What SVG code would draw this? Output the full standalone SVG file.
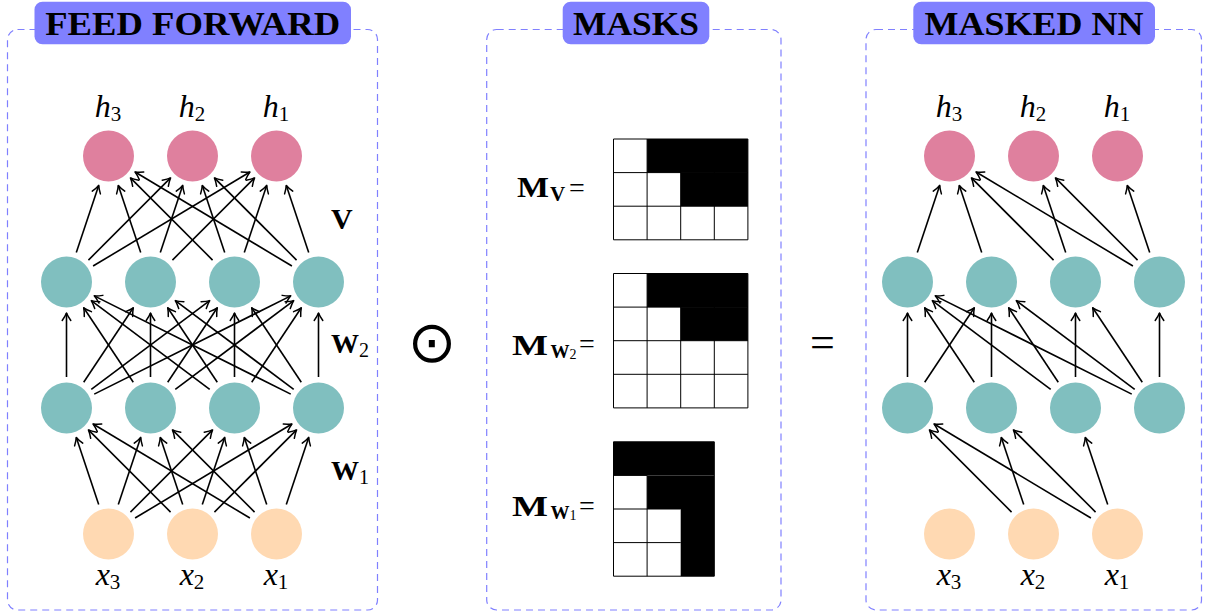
<svg xmlns="http://www.w3.org/2000/svg" width="1205" height="612" viewBox="0 0 1205 612">
<style>
.panel{fill:none;stroke:#8080ff;stroke-width:1.2;stroke-dasharray:7 5}
.tbox{fill:#8080ff}
.title{font-family:"Liberation Serif",serif;font-weight:bold;font-size:34px;fill:#000;text-anchor:middle}
.out{fill:#df809e}
.hid{fill:#80bfbf}
.inp{fill:#ffd9b2}
.lab{font-family:"Liberation Serif",serif;font-size:32px;fill:#000;text-anchor:middle}
.it{font-style:italic}
.sub{font-size:21px}
.bold{font-family:"Liberation Serif",serif;font-weight:bold;fill:#000}
.eq{font-family:"Liberation Serif",serif;fill:#000}
.conn line{stroke:#000;stroke-width:1.6;marker-end:url(#ah)}
.grid line{stroke:#000;stroke-width:1}
.blk{fill:#000}
</style>
<defs>
<marker id="ah" markerUnits="userSpaceOnUse" viewBox="-9 -6 10 12" markerWidth="10" markerHeight="12" refX="0" refY="0" orient="auto" overflow="visible">
<path d="M-7.5,-4.3 Q-3,-1.2 0,0 Q-3,1.2 -7.5,4.3" fill="none" stroke="#000" stroke-width="1.5" stroke-linecap="round" stroke-linejoin="round"/>
</marker>
</defs>

<!-- Panels -->
<g id="panel-ff">
<rect class="panel" x="7.5" y="29.5" width="370" height="580.5" rx="10"/>
<rect class="tbox" x="34.5" y="1.7" width="316.5" height="42.6" rx="8"/>
<text class="title" x="192.7" y="35" textLength="295" lengthAdjust="spacingAndGlyphs">FEED FORWARD</text>
</g>
<g id="panel-masks">
<rect class="panel" x="486.7" y="29.5" width="294.3" height="580.5" rx="10"/>
<rect class="tbox" x="562.7" y="1.7" width="146.6" height="42.6" rx="8"/>
<text class="title" x="636" y="35" textLength="126" lengthAdjust="spacingAndGlyphs">MASKS</text>
</g>
<g id="panel-mnn">
<rect class="panel" x="866" y="29.5" width="335.5" height="580.5" rx="10"/>
<rect class="tbox" x="913.3" y="1.7" width="241.7" height="42.6" rx="8"/>
<text class="title" x="1034" y="35" textLength="219" lengthAdjust="spacingAndGlyphs">MASKED NN</text>
</g>

<!-- Connectors -->
<g id="connectors" class="conn">
<!-- FF: inputs -> hidden1 -->
<line x1="98.70" y1="504.59" x2="76.30" y2="437.41"/>
<line x1="118.30" y1="504.59" x2="140.70" y2="437.41"/>
<line x1="130.42" y1="512.08" x2="212.58" y2="429.92"/>
<line x1="135.08" y1="518.05" x2="291.92" y2="423.95"/>
<line x1="170.58" y1="512.08" x2="88.42" y2="429.92"/>
<line x1="182.70" y1="504.59" x2="160.30" y2="437.41"/>
<line x1="202.30" y1="504.59" x2="224.70" y2="437.41"/>
<line x1="214.42" y1="512.08" x2="296.58" y2="429.92"/>
<line x1="249.92" y1="518.05" x2="93.08" y2="423.95"/>
<line x1="254.58" y1="512.08" x2="172.42" y2="429.92"/>
<line x1="266.70" y1="504.59" x2="244.30" y2="437.41"/>
<line x1="286.30" y1="504.59" x2="308.70" y2="437.41"/>
<!-- FF: hidden1 -> hidden2 -->
<line x1="66.5" y1="377" x2="66.5" y2="313"/>
<line x1="83.70" y1="382.21" x2="133.30" y2="307.79"/>
<line x1="91.30" y1="389.4" x2="209.70" y2="300.6"/>
<line x1="94.23" y1="394.14" x2="290.77" y2="295.86"/>
<line x1="133.30" y1="382.21" x2="83.70" y2="307.79"/>
<line x1="150.5" y1="377" x2="150.5" y2="313"/>
<line x1="167.70" y1="382.21" x2="217.30" y2="307.79"/>
<line x1="175.30" y1="389.4" x2="293.70" y2="300.6"/>
<line x1="209.70" y1="389.4" x2="91.30" y2="300.6"/>
<line x1="217.30" y1="382.21" x2="167.70" y2="307.79"/>
<line x1="234.5" y1="377" x2="234.5" y2="313"/>
<line x1="251.70" y1="382.21" x2="301.30" y2="307.79"/>
<line x1="290.77" y1="394.14" x2="94.23" y2="295.86"/>
<line x1="293.70" y1="389.4" x2="175.30" y2="300.6"/>
<line x1="301.30" y1="382.21" x2="251.70" y2="307.79"/>
<line x1="318.5" y1="377" x2="318.5" y2="313"/>
<!-- FF: hidden2 -> outputs -->
<line x1="76.30" y1="252.59" x2="98.70" y2="185.41"/>
<line x1="88.42" y1="260.08" x2="170.58" y2="177.92"/>
<line x1="93.08" y1="266.05" x2="249.92" y2="171.95"/>
<line x1="140.70" y1="252.59" x2="118.30" y2="185.41"/>
<line x1="160.30" y1="252.59" x2="182.70" y2="185.41"/>
<line x1="172.42" y1="260.08" x2="254.58" y2="177.92"/>
<line x1="212.58" y1="260.08" x2="130.42" y2="177.92"/>
<line x1="224.70" y1="252.59" x2="202.30" y2="185.41"/>
<line x1="244.30" y1="252.59" x2="266.70" y2="185.41"/>
<line x1="291.92" y1="266.05" x2="135.08" y2="171.95"/>
<line x1="296.58" y1="260.08" x2="214.42" y2="177.92"/>
<line x1="308.70" y1="252.59" x2="286.30" y2="185.41"/>
<!-- Masked NN: inputs -> hidden1 -->
<line x1="1011.58" y1="512.08" x2="929.42" y2="429.92"/>
<line x1="1090.92" y1="518.05" x2="934.08" y2="423.95"/>
<line x1="1023.70" y1="504.59" x2="1001.30" y2="437.41"/>
<line x1="1095.58" y1="512.08" x2="1013.42" y2="429.92"/>
<line x1="1107.70" y1="504.59" x2="1085.30" y2="437.41"/>
<!-- Masked NN: hidden1 -> hidden2 -->
<line x1="907.5" y1="377" x2="907.5" y2="313"/>
<line x1="974.30" y1="382.21" x2="924.70" y2="307.79"/>
<line x1="1050.70" y1="389.4" x2="932.30" y2="300.6"/>
<line x1="1131.77" y1="394.14" x2="935.23" y2="295.86"/>
<line x1="924.70" y1="382.21" x2="974.30" y2="307.79"/>
<line x1="991.5" y1="377" x2="991.5" y2="313"/>
<line x1="1058.30" y1="382.21" x2="1008.70" y2="307.79"/>
<line x1="1134.70" y1="389.4" x2="1016.30" y2="300.6"/>
<line x1="1075.5" y1="377" x2="1075.5" y2="313"/>
<line x1="1142.30" y1="382.21" x2="1092.70" y2="307.79"/>
<line x1="1159.5" y1="377" x2="1159.5" y2="313"/>
<!-- Masked NN: hidden2 -> outputs -->
<line x1="917.30" y1="252.59" x2="939.70" y2="185.41"/>
<line x1="981.70" y1="252.59" x2="959.30" y2="185.41"/>
<line x1="1053.58" y1="260.08" x2="971.42" y2="177.92"/>
<line x1="1132.92" y1="266.05" x2="976.08" y2="171.95"/>
<line x1="1065.70" y1="252.59" x2="1043.30" y2="185.41"/>
<line x1="1137.58" y1="260.08" x2="1055.42" y2="177.92"/>
<line x1="1149.70" y1="252.59" x2="1127.30" y2="185.41"/>
</g>

<!-- Feed forward nodes -->
<g id="ff-h3"><circle class="out" cx="108.5" cy="156" r="25.5"/><text class="lab" x="108" y="117"><tspan class="it">h</tspan><tspan class="sub" dy="4">3</tspan></text></g>
<g id="ff-h2"><circle class="out" cx="192.5" cy="156" r="25.5"/><text class="lab" x="192" y="117"><tspan class="it">h</tspan><tspan class="sub" dy="4">2</tspan></text></g>
<g id="ff-h1"><circle class="out" cx="276.5" cy="156" r="25.5"/><text class="lab" x="276" y="117"><tspan class="it">h</tspan><tspan class="sub" dy="4">1</tspan></text></g>
<g id="ff-a1"><circle class="hid" cx="66.5" cy="282" r="25.5"/></g>
<g id="ff-a2"><circle class="hid" cx="150.5" cy="282" r="25.5"/></g>
<g id="ff-a3"><circle class="hid" cx="234.5" cy="282" r="25.5"/></g>
<g id="ff-a4"><circle class="hid" cx="318.5" cy="282" r="25.5"/></g>
<g id="ff-b1"><circle class="hid" cx="66.5" cy="408" r="25.5"/></g>
<g id="ff-b2"><circle class="hid" cx="150.5" cy="408" r="25.5"/></g>
<g id="ff-b3"><circle class="hid" cx="234.5" cy="408" r="25.5"/></g>
<g id="ff-b4"><circle class="hid" cx="318.5" cy="408" r="25.5"/></g>
<g id="ff-x3"><circle class="inp" cx="108.5" cy="534" r="25.5"/><text class="lab" x="108" y="585"><tspan class="it">x</tspan><tspan class="sub" dy="4">3</tspan></text></g>
<g id="ff-x2"><circle class="inp" cx="192.5" cy="534" r="25.5"/><text class="lab" x="192" y="585"><tspan class="it">x</tspan><tspan class="sub" dy="4">2</tspan></text></g>
<g id="ff-x1"><circle class="inp" cx="276.5" cy="534" r="25.5"/><text class="lab" x="276" y="585"><tspan class="it">x</tspan><tspan class="sub" dy="4">1</tspan></text></g>

<!-- Weight labels -->
<g id="lbl-V"><text class="bold" x="331" y="229" font-size="30">V</text></g>
<g id="lbl-W2"><text class="bold" x="331" y="353" font-size="28">W<tspan class="eq" font-weight="normal" font-size="20" dy="4">2</tspan></text></g>
<g id="lbl-W1"><text class="bold" x="331" y="480" font-size="28">W<tspan class="eq" font-weight="normal" font-size="20" dy="4">1</tspan></text></g>

<!-- Operators -->
<g id="odot"><text x="432" y="362" font-family="DejaVu Sans, sans-serif" font-size="58" text-anchor="middle" fill="#000">⊙</text></g>
<g id="equals"><text class="eq" x="822.5" y="357" font-size="44" text-anchor="middle">=</text></g>

<!-- Masks -->
<g id="mask-V">
<text class="bold" x="517" y="197" font-size="29"><tspan textLength="32" lengthAdjust="spacingAndGlyphs">M</tspan><tspan x="550" dy="4" font-size="21">V</tspan></text>
<text class="eq" x="569" y="196.5" font-size="28">=</text>
<rect class="blk" x="647.1" y="139" width="100.8" height="33.6"/>
<rect class="blk" x="680.7" y="172.6" width="67.2" height="33.6"/>
<g class="grid">
<line x1="613.5" y1="139" x2="747.9" y2="139"/>
<line x1="613.5" y1="172.6" x2="747.9" y2="172.6"/>
<line x1="613.5" y1="206.2" x2="747.9" y2="206.2"/>
<line x1="613.5" y1="239.8" x2="747.9" y2="239.8"/>
<line x1="613.5" y1="139" x2="613.5" y2="239.8"/>
<line x1="647.1" y1="139" x2="647.1" y2="239.8"/>
<line x1="680.7" y1="139" x2="680.7" y2="239.8"/>
<line x1="714.3" y1="139" x2="714.3" y2="239.8"/>
<line x1="747.9" y1="139" x2="747.9" y2="239.8"/>
</g>
</g>
<g id="mask-W2">
<text class="bold" x="512" y="355" font-size="29"><tspan textLength="36" lengthAdjust="spacingAndGlyphs">M</tspan><tspan x="550.5" dy="3" font-size="19">W</tspan><tspan class="eq" font-weight="normal" font-size="14" dy="1">2</tspan></text>
<text class="eq" x="579" y="352.5" font-size="28">=</text>
<rect class="blk" x="647.1" y="273.5" width="100.8" height="33.6"/>
<rect class="blk" x="680.7" y="307.1" width="67.2" height="33.6"/>
<g class="grid">
<line x1="613.5" y1="273.5" x2="747.9" y2="273.5"/>
<line x1="613.5" y1="307.1" x2="747.9" y2="307.1"/>
<line x1="613.5" y1="340.7" x2="747.9" y2="340.7"/>
<line x1="613.5" y1="374.3" x2="747.9" y2="374.3"/>
<line x1="613.5" y1="407.9" x2="747.9" y2="407.9"/>
<line x1="613.5" y1="273.5" x2="613.5" y2="407.9"/>
<line x1="647.1" y1="273.5" x2="647.1" y2="407.9"/>
<line x1="680.7" y1="273.5" x2="680.7" y2="407.9"/>
<line x1="714.3" y1="273.5" x2="714.3" y2="407.9"/>
<line x1="747.9" y1="273.5" x2="747.9" y2="407.9"/>
</g>
</g>
<g id="mask-W1">
<text class="bold" x="512" y="515.7" font-size="29"><tspan textLength="36" lengthAdjust="spacingAndGlyphs">M</tspan><tspan x="550.5" dy="3" font-size="19">W</tspan><tspan class="eq" font-weight="normal" font-size="14" dy="1">1</tspan></text>
<text class="eq" x="579" y="514.5" font-size="28">=</text>
<rect class="blk" x="613.5" y="441.8" width="100.8" height="33.6"/>
<rect class="blk" x="647.1" y="475.4" width="67.2" height="33.6"/>
<rect class="blk" x="680.7" y="509" width="33.6" height="67.2"/>
<g class="grid">
<line x1="613.5" y1="441.8" x2="714.3" y2="441.8"/>
<line x1="613.5" y1="475.4" x2="647.1" y2="475.4"/>
<line x1="613.5" y1="509" x2="680.7" y2="509"/>
<line x1="613.5" y1="542.6" x2="680.7" y2="542.6"/>
<line x1="613.5" y1="576.2" x2="714.3" y2="576.2"/>
<line x1="613.5" y1="441.8" x2="613.5" y2="576.2"/>
<line x1="647.1" y1="475.4" x2="647.1" y2="576.2"/>
<line x1="714.3" y1="441.8" x2="714.3" y2="576.2"/>
</g>
</g>

<!-- Masked NN nodes -->
<g id="mnn-h3"><circle class="out" cx="949.5" cy="156" r="25.5"/><text class="lab" x="949" y="117"><tspan class="it">h</tspan><tspan class="sub" dy="4">3</tspan></text></g>
<g id="mnn-h2"><circle class="out" cx="1033.5" cy="156" r="25.5"/><text class="lab" x="1033" y="117"><tspan class="it">h</tspan><tspan class="sub" dy="4">2</tspan></text></g>
<g id="mnn-h1"><circle class="out" cx="1117.5" cy="156" r="25.5"/><text class="lab" x="1117" y="117"><tspan class="it">h</tspan><tspan class="sub" dy="4">1</tspan></text></g>
<g id="mnn-a1"><circle class="hid" cx="907.5" cy="282" r="25.5"/></g>
<g id="mnn-a2"><circle class="hid" cx="991.5" cy="282" r="25.5"/></g>
<g id="mnn-a3"><circle class="hid" cx="1075.5" cy="282" r="25.5"/></g>
<g id="mnn-a4"><circle class="hid" cx="1159.5" cy="282" r="25.5"/></g>
<g id="mnn-b1"><circle class="hid" cx="907.5" cy="408" r="25.5"/></g>
<g id="mnn-b2"><circle class="hid" cx="991.5" cy="408" r="25.5"/></g>
<g id="mnn-b3"><circle class="hid" cx="1075.5" cy="408" r="25.5"/></g>
<g id="mnn-b4"><circle class="hid" cx="1159.5" cy="408" r="25.5"/></g>
<g id="mnn-x3"><circle class="inp" cx="949.5" cy="534" r="25.5"/><text class="lab" x="949" y="585"><tspan class="it">x</tspan><tspan class="sub" dy="4">3</tspan></text></g>
<g id="mnn-x2"><circle class="inp" cx="1033.5" cy="534" r="25.5"/><text class="lab" x="1033" y="585"><tspan class="it">x</tspan><tspan class="sub" dy="4">2</tspan></text></g>
<g id="mnn-x1"><circle class="inp" cx="1117.5" cy="534" r="25.5"/><text class="lab" x="1117" y="585"><tspan class="it">x</tspan><tspan class="sub" dy="4">1</tspan></text></g>
</svg>
